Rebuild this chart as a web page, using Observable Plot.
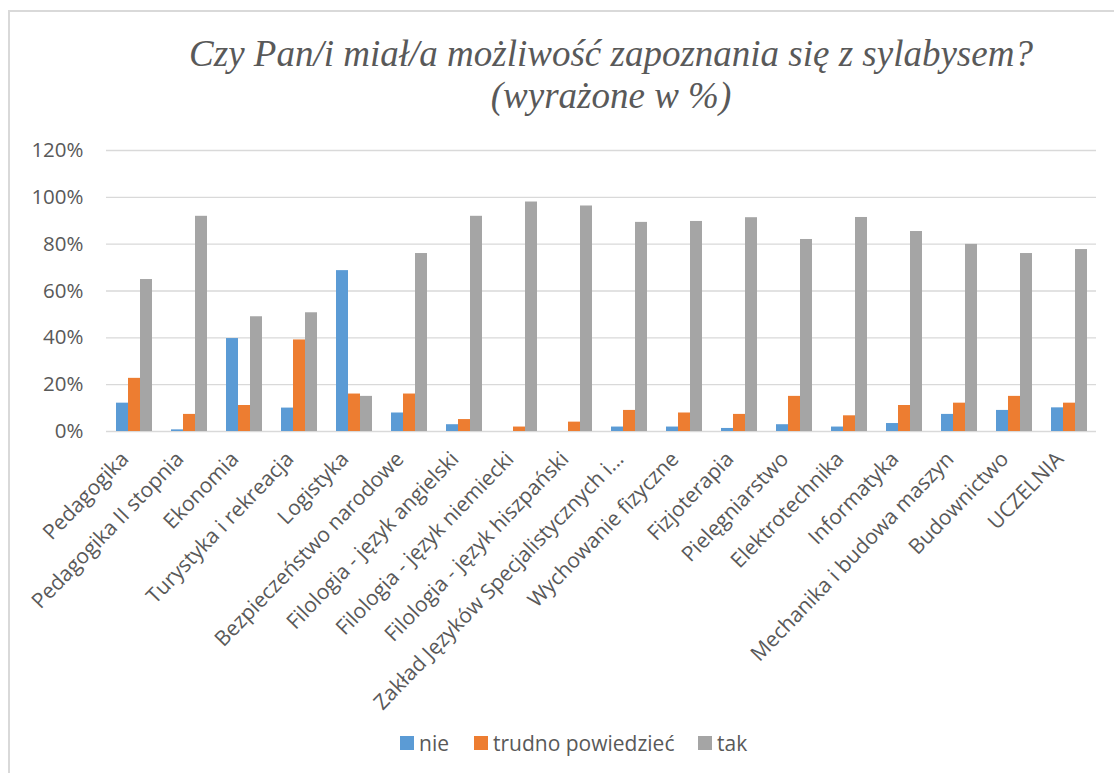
<!DOCTYPE html>
<html>
<head>
<meta charset="utf-8">
<script src="https://cdn.jsdelivr.net/npm/d3@7"></script>
<script src="https://cdn.jsdelivr.net/npm/@observablehq/plot@0.6"></script>
<style>
  html, body { margin: 0; padding: 0; background: #fff; }
  #wrap { position: relative; width: 1114px; height: 773px; overflow: hidden; background: #fff; }
  #frame { position: absolute; left: 8px; top: 10px; width: 1200px; height: 900px;
           border-left: 2px solid #d9d9d9; border-top: 2px solid #d9d9d9; }
  #title { position: absolute; left: 0; top: 33px; width: 1222px; text-align: center;
           font-family: "Liberation Serif", "DejaVu Serif", serif; font-style: italic;
           font-size: 37px; line-height: 42px; color: #595959; }
  #chart { position: absolute; left: 0; top: 130px; }
  #chart svg { overflow: visible; }
  #legend { position: absolute; top: 730px; left: 0; width: 1114px; height: 26px;
            font-family: "Open Sans", sans-serif; font-size: 21px; color: #595959; }
  .sw { position: absolute; top: 6px; width: 14px; height: 14px; }
  .lt { position: absolute; top: 0px; line-height: 26px; white-space: nowrap; }
</style>
</head>
<body>
<div id="wrap">
  <div id="frame"></div>
  <div id="title">Czy Pan/i miał/a możliwość zapoznania się z sylabysem?<br>(wyrażone w %)</div>
  <div id="chart"></div>
  <div id="legend"></div>
</div>
<script>
const categories = [
  "Pedagogika", "Pedagogika II stopnia", "Ekonomia", "Turystyka i rekreacja", "Logistyka",
  "Bezpieczeństwo narodowe", "Filologia - język angielski", "Filologia - język niemiecki",
  "Filologia - język hiszpański", "Zakład Języków Specjalistycznych i...", "Wychowanie fizyczne",
  "Fizjoterapia", "Pielęgniarstwo", "Elektrotechnika", "Informatyka", "Mechanika i budowa maszyn",
  "Budownictwo", "UCZELNIA"
];
const seriesNames = ["nie", "trudno powiedzieć", "tak"];
const nie    = [12.1, 0.7, 39.7, 10.0, 68.7, 7.9, 2.9, 0.0, 0.0, 1.9, 1.9, 1.3, 2.9, 1.9, 3.4, 7.3, 9.0, 10.1];
const trudno = [22.7, 7.3, 11.1, 39.1, 16.0, 16.0, 5.1, 1.9, 4.0, 9.0, 7.9, 7.3, 15.0, 6.7, 11.1, 12.1, 15.0, 12.1];
const tak    = [64.9, 91.9, 49.0, 50.7, 15.0, 76.0, 91.9, 98.0, 96.3, 89.3, 89.7, 91.3, 82.0, 91.4, 85.4, 79.9, 76.0, 77.7];
const colors = ["#5b9bd5", "#ed7d31", "#a5a5a5"];
const yTicks = [0, 20, 40, 60, 80, 100, 120];

const seriesValues = [nie, trudno, tak];
const data = [];
categories.forEach((c, i) => {
  seriesNames.forEach((s, j) => data.push({cat: c, series: s, value: seriesValues[j][i]}));
});

const chart = Plot.plot({
  width: 1114,
  height: 581,
  marginTop: 20,
  marginBottom: 280,
  marginLeft: 103,
  marginRight: 16,
  style: {fontFamily: "'Open Sans', sans-serif", fontSize: "20.5px", color: "#595959", background: "transparent"},
  fx: {domain: categories, paddingInner: 0, paddingOuter: 0, label: null},
  x: {domain: seriesNames, paddingInner: 0, paddingOuter: 0.725, axis: null},
  y: {domain: [0, 120], label: null},
  color: {domain: seriesNames, range: colors},
  marks: [
    Plot.gridY(yTicks, {stroke: "#d9d9d9", strokeOpacity: 1, strokeWidth: 1.3}),
    Plot.axisY(yTicks, {tickFormat: d => d + "%", tickSize: 0, tickPadding: 23, label: null, fill: "#595959"}),
    Plot.axisFx({anchor: "bottom", tickRotate: -46, tickSize: 0, tickPadding: 10, dx: -9, dy: 14,
                 fontSize: 21, label: null, fill: "#595959"}),
    Plot.barY(data, {fx: "cat", x: "series", y: "value", fill: "series"})
  ]
});
document.getElementById("chart").appendChild(chart);

// legend
const legend = document.getElementById("legend");
const swatchX = [400, 474, 698];
seriesNames.forEach((s, i) => {
  const sw = document.createElement("div");
  sw.className = "sw";
  sw.style.left = swatchX[i] + "px";
  sw.style.background = colors[i];
  legend.appendChild(sw);
  const t = document.createElement("div");
  t.className = "lt";
  t.style.left = (swatchX[i] + 19) + "px";
  t.textContent = s;
  legend.appendChild(t);
});
</script>
</body>
</html>
